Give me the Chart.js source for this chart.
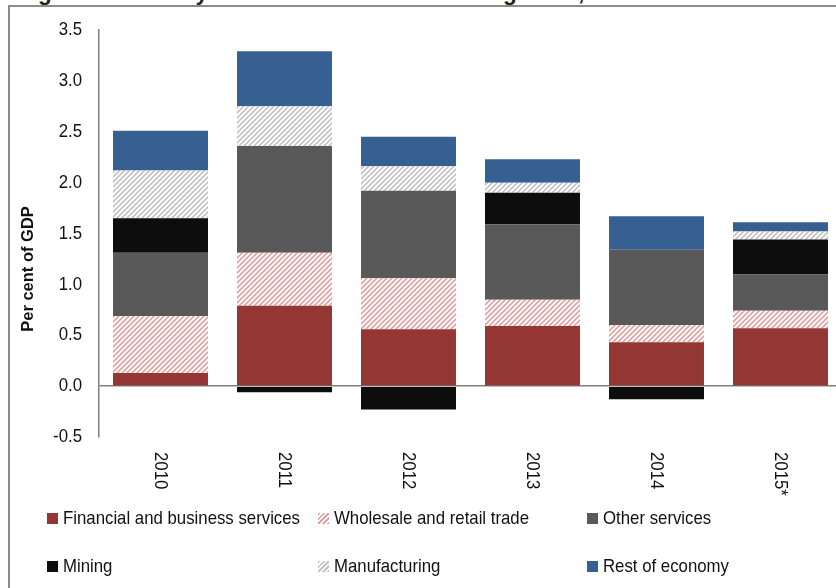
<!DOCTYPE html>
<html><head><meta charset="utf-8">
<script src="https://cdn.jsdelivr.net/npm/chart.js@4.4.1/dist/chart.umd.min.js"></script>
<style>
html,body{margin:0;padding:0;width:836px;height:588px;overflow:hidden;background:#fff;}
#wrap{position:absolute;left:0;top:0;width:836px;height:588px;overflow:hidden;}
#frame{position:absolute;left:8px;top:5px;width:900px;height:700px;border-left:2px solid #8c8c8c;border-top:2px solid #8c8c8c;}
#title{position:absolute;left:18px;top:-20px;white-space:nowrap;font:bold 22.5px "Liberation Sans",Arial,sans-serif;color:#222;line-height:26px;}
#cv{position:absolute;left:0;top:0;}
.lg{position:absolute;font:19px "Liberation Sans",Arial,sans-serif;color:#111;white-space:nowrap;line-height:20px;transform-origin:0 50%;}
.sw{position:absolute;width:11px;height:11px;}
</style></head>
<body><div id="wrap">
<div id="title">Figure 3: Industry contributions to economic growth, 2010 – 2015</div>
<div id="frame"></div>
<div style="position:absolute;left:0;top:0;width:860px;height:588px;"><canvas id="cv" width="860" height="588" style="width:860px;height:588px"></canvas></div>
<div id="legend"></div>
</div>
<script>
const categories = ['2010','2011','2012','2013','2014','2015*'];
const seriesNames = ['Financial and business services','Wholesale and retail trade','Other services','Mining','Manufacturing','Rest of economy'];
const financial   = [0.13, 0.79, 0.56, 0.59, 0.43, 0.57];
const wholesale   = [0.56, 0.52, 0.50, 0.26, 0.17, 0.17];
const otherServ   = [0.62, 1.05, 0.86, 0.74, 0.74, 0.36];
const mining      = [0.34, -0.06, -0.23, 0.31, -0.13, 0.34];
const manufacturing = [0.47, 0.39, 0.24, 0.10, 0.00, 0.08];
const restEconomy = [0.39, 0.54, 0.29, 0.23, 0.33, 0.09];
const yTicks = [-0.5,0,0.5,1,1.5,2,2.5,3,3.5];

function hatch(color){
  const c=document.createElement('canvas');c.width=5;c.height=5;
  const x=c.getContext('2d');x.fillStyle='#fff';x.fillRect(0,0,5,5);
  x.strokeStyle=color;x.lineWidth=1.7;
  x.beginPath();x.moveTo(-1,6);x.lineTo(6,-1);x.moveTo(-1,1);x.lineTo(1,-1);x.moveTo(4,6);x.lineTo(6,4);x.stroke();
  return x.createPattern(c,'repeat');
}
const colors=['#943634',hatch('#e3a3a3'),'#595959','#0d0d0d',hatch('#c4c4c4'),'#366092'];
const cssCols=['#943634','repeating-linear-gradient(-45deg,#e3a3a3 0 1.5px,#fff 1.5px 3.5px)','#595959','#0d0d0d','repeating-linear-gradient(-45deg,#c4c4c4 0 1.5px,#fff 1.5px 3.5px)','#366092'];
const data=[financial,wholesale,otherServ,mining,manufacturing,restEconomy];

const FONT='"Liberation Sans",Arial,sans-serif';
const mc=document.createElement('canvas').getContext('2d');
mc.font='19px '+FONT;
const narrow=237/mc.measureText('Financial and business services').width;

const extra={
  id:'extra',
  afterDraw(chart){
    const c=chart.ctx, xs=chart.scales.x, ys=chart.scales.y;
    c.save();
    c.fillStyle='#111';c.font='19px '+FONT;
    // x labels, rotated clockwise
    c.textAlign='left';c.textBaseline='middle';
    categories.forEach((lab,i)=>{
      const px=xs.getPixelForValue(i);
      c.save();c.translate(px,452);c.rotate(Math.PI/2);c.scale(narrow,1);c.fillText(lab,0,0);c.restore();
    });
    // y tick labels
    c.textAlign='right';
    yTicks.forEach(v=>{
      const py=ys.getPixelForValue(v);
      c.save();c.translate(82,py);c.scale(narrow,1);c.fillText(v.toFixed(1),0,0);c.restore();
    });
    c.font='bold 16.5px '+FONT;c.textAlign='center';
    c.translate(28,269);c.rotate(-Math.PI/2);c.fillText('Per cent of GDP',0,0);
    c.restore();
  }
};

new Chart(document.getElementById('cv'),{
  type:'bar',
  data:{labels:categories,datasets:data.map((d,i)=>({label:seriesNames[i],data:d,backgroundColor:colors[i],borderWidth:0,barPercentage:0.766,categoryPercentage:1}))},
  options:{
    responsive:false,animation:false,
    layout:{padding:{left:0,right:17.5,top:30,bottom:0}},
    plugins:{legend:{display:false},tooltip:{enabled:false}},
    scales:{
      x:{stacked:true,grid:{display:false},border:{display:false},ticks:{display:false},afterFit:s=>{s.height=151;}},
      y:{stacked:true,min:-0.5,max:3.5,
        afterBuildTicks:s=>{s.ticks=yTicks.map(v=>({value:v}));},
        afterFit:s=>{s.width=98.5;},
        ticks:{display:false},
        grid:{drawTicks:false,lineWidth:1.5,color:c=>c.tick&&c.tick.value===0?'#7f7f7f':'rgba(0,0,0,0)'},
        border:{display:true,color:'#7f7f7f',width:1.5}}
    }
  },
  plugins:[extra]
});

const lg=document.getElementById('legend');
const pos=[[47,518],[318,518],[587,518],[47,566],[318,566],[587,566]];
seriesNames.forEach((n,i)=>{
  const [x,y]=pos[i];
  const s=document.createElement('div');s.className='sw';s.style.left=x+'px';s.style.top=(y-5)+'px';s.style.background=cssCols[i];lg.appendChild(s);
  const t=document.createElement('div');t.className='lg';t.style.left=(x+16)+'px';t.style.top=(y-10)+'px';t.style.transform='scaleX('+narrow.toFixed(4)+')';t.textContent=n;lg.appendChild(t);
});
</script>
</body></html>
